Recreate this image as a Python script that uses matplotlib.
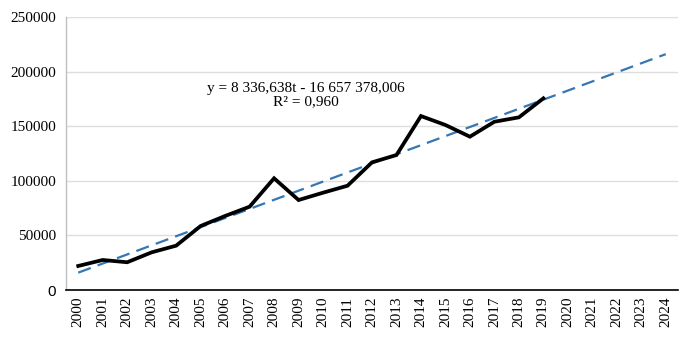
import matplotlib
matplotlib.use("Agg")
import matplotlib.pyplot as plt
import numpy as np

years = list(range(2000, 2025))
actual_years = list(range(2000, 2020))
values = [22000, 27500, 25400, 34500, 40600, 58600, 67800, 76300, 102300, 82400,
          89100, 95500, 116900, 123600, 159300, 151100, 140400, 154100, 158100, 175500]
slope = 8336.638
intercept = -16657378.006
trend = [slope * y + intercept for y in years]
yticks = [0, 50000, 100000, 150000, 200000, 250000]
eq_text = "y = 8 336,638t - 16 657 378,006\nR² = 0,960"

plt.rcParams['font.family'] = ['Liberation Serif', 'DejaVu Serif']

fig = plt.figure(figsize=(6.93, 3.39), dpi=100)
ax = fig.add_axes([66/693, 1 - 290/339, (678 - 66)/693, (290 - 17)/339])

idx = np.arange(len(years))
ax.plot(idx, trend, linestyle=(0, (6, 3.3)), color='#3576B3', linewidth=1.6, zorder=2)
ax.plot(idx[:len(values)], values, color='black', linewidth=2.7, zorder=3,
        solid_joinstyle='miter')

ax.set_xlim(-0.5, len(years) - 0.5)
ax.set_ylim(0, 250000)
ax.set_yticks(yticks)
ax.set_yticklabels([str(v) for v in yticks], fontsize=11)
for lab in ax.get_yticklabels():
    if lab.get_text() == '0':
        lab.set_family(['Liberation Sans', 'DejaVu Sans'])
ax.set_xticks(idx)
ax.set_xticklabels([str(y) for y in years], rotation=90, fontsize=11)
ax.tick_params(axis='both', length=0, pad=7)
ax.tick_params(axis='x', pad=5)

ax.grid(axis='y', color='#DEDEDE', linewidth=1)
ax.set_axisbelow(True)
for s in ['top', 'right']:
    ax.spines[s].set_visible(False)
ax.spines['left'].set_color('#BFBFBF')
ax.spines['left'].set_linewidth(1)
ax.spines['bottom'].set_color('black')
ax.spines['bottom'].set_linewidth(1.2)

ax.text(306/693, 1 - 95/339, eq_text, transform=fig.transFigure, ha='center', va='center',
        fontsize=11, linespacing=1.05)

fig.savefig('out.png', dpi=100)
